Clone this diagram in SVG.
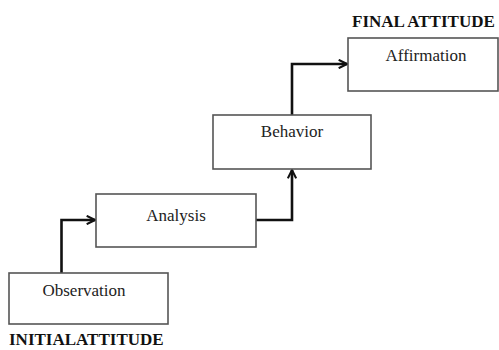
<svg xmlns="http://www.w3.org/2000/svg" width="499" height="350" viewBox="0 0 499 350">
<style>
.box{fill:#fff;stroke:#555;stroke-width:1.6}
.lbl{font-family:"Liberation Serif","Times New Roman",serif;font-size:17px;fill:#222;text-anchor:middle}
.ttl{font-family:"Liberation Serif","Times New Roman",serif;font-size:17px;font-weight:bold;fill:#111}
.conn{fill:none;stroke:#111;stroke-width:2.6}
</style>
<defs>
<marker id="arr" viewBox="0 0 10 10" refX="9" refY="5" markerWidth="4" markerHeight="4" orient="auto" markerUnits="strokeWidth">
<path d="M1,1 L9,5 L1,9" fill="none" stroke="#111" stroke-width="2"/>
</marker>
</defs>
<rect width="499" height="350" fill="#fff"/>
<g id="connectors">
<path class="conn" d="M61.5,273 V220 H95" marker-end="url(#arr)"/>
<path class="conn" d="M256,220 H292 V170" marker-end="url(#arr)"/>
<path class="conn" d="M292,115 V64 H347" marker-end="url(#arr)"/>
</g>
<g id="observation">
<rect class="box" x="9" y="273" width="159" height="51"/>
<text class="lbl" x="84" y="296">Observation</text>
</g>
<g id="analysis">
<rect class="box" x="96" y="194" width="160" height="53"/>
<text class="lbl" x="176" y="221">Analysis</text>
</g>
<g id="behavior">
<rect class="box" x="213" y="115" width="158" height="54"/>
<text class="lbl" x="292" y="137">Behavior</text>
</g>
<g id="affirmation">
<rect class="box" x="348" y="38" width="150" height="53"/>
<text class="lbl" x="426" y="61">Affirmation</text>
</g>
<text class="ttl" x="352" y="27">FINAL ATTITUDE</text>
<text class="ttl" x="9" y="345" font-size="16.5">INITIALATTITUDE</text>
</svg>
